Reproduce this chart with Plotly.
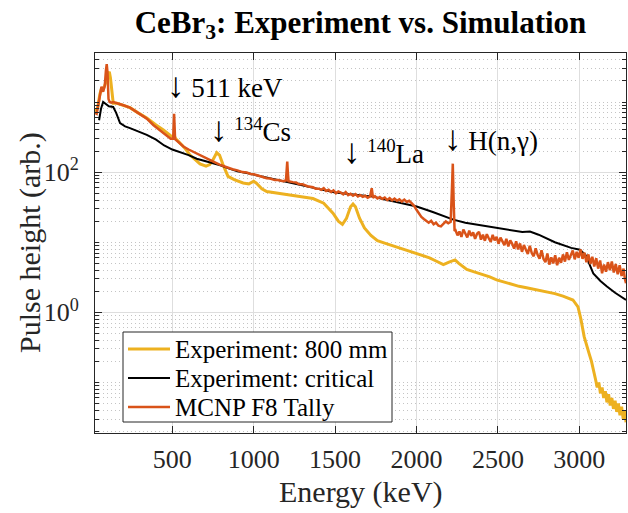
import plotly.graph_objects as go

# ---------------- data ----------------
energy_exp800 = [25, 40, 55, 66, 75, 85, 95, 105, 113, 120, 128, 137, 160, 190, 240, 290, 343,
                 400, 445, 490, 505, 512, 520, 547, 580, 609, 640, 670, 707, 730, 750, 773, 790,
                 810, 842, 880, 935, 970, 1000, 1015, 1050, 1080, 1150, 1250, 1364, 1430, 1487,
                 1520, 1545, 1570, 1595, 1610, 1625, 1650, 1680, 1720, 1760, 1800, 1836, 1870,
                 1900, 1950, 2001, 2040, 2080, 2120, 2165, 2200, 2237, 2260, 2309, 2350, 2400,
                 2450, 2492, 2540, 2580, 2630, 2676, 2740, 2800, 2850, 2900, 2961, 2992, 3010,
                 3030, 3045, 3060, 3075, 3090, 3100, 3110, 3120, 3130, 3140, 3150, 3160, 3170,
                 3180, 3190, 3200, 3210, 3220, 3230, 3240, 3250, 3260, 3270, 3280, 3287]
pulse_exp800 = [730, 800, 1300, 1600, 1500, 1700, 2000, 2500, 2700, 2200, 1400, 960, 960, 900,
                830, 700, 590, 470, 400, 330, 315, 330, 300, 260, 215, 175, 150, 131, 122, 128,
                150, 190, 175, 130, 87, 78, 70, 68, 74, 70, 58, 53, 50, 46, 42, 36, 26, 20, 18,
                22, 32, 35, 32, 22, 16, 12.5, 10.5, 9.8, 9.2, 8.8, 8.2, 7.6, 7.0, 6.5, 6.0, 5.4,
                4.8, 5.2, 5.6, 5.0, 4.1, 3.8, 3.5, 3.2, 2.9, 2.7, 2.5, 2.35, 2.24, 2.1, 1.95,
                1.85, 1.7, 1.5, 1.2, 0.8, 0.45, 0.33, 0.26, 0.2, 0.13, 0.11, 0.085, 0.1, 0.07,
                0.085, 0.06, 0.075, 0.052, 0.068, 0.047, 0.06, 0.042, 0.055, 0.038, 0.05, 0.034,
                0.045, 0.03, 0.04, 0.027, 0.034, 0.024]

energy_critical = [50, 62, 75, 90, 110, 137, 155, 179, 210, 240, 290, 343, 400, 450, 500, 547,
                   600, 650, 700, 751, 800, 850, 900, 957, 1000, 1100, 1200, 1300, 1364, 1450,
                   1500, 1571, 1650, 1735, 1800, 1900, 2001, 2100, 2226, 2300, 2400, 2492, 2600,
                   2650, 2697, 2750, 2850, 2950, 3004, 3040, 3086, 3130, 3168, 3220, 3287]
pulse_critical = [550, 800, 1000, 950, 870, 850, 700, 500, 450, 425, 380, 340, 290, 240, 210,
                  195, 175, 155, 143, 135, 124, 112, 103, 97, 92, 82, 72, 64, 59, 54, 51, 49,
                  46.5, 44.7, 41, 36.5, 32.4, 27, 21, 19, 17.5, 16.2, 14.5, 14.0, 14.2, 12.8,
                  10, 8.3, 7.8, 6.5, 3.6, 2.8, 2.35, 1.9, 1.5]

energy_mcnp = [25, 35, 45, 55, 65, 75, 85, 92, 97, 102, 108, 115, 125, 137, 160, 180, 200, 240,
               290, 343, 383, 420, 460, 490, 505, 511, 517, 530, 568, 600, 640, 680, 720, 752,
               790, 830, 870, 900, 930, 957, 980, 1000, 1030, 1050, 1080, 1100, 1130, 1150, 1180,
               1198, 1203, 1206, 1209, 1214, 1240, 1260, 1280, 1300, 1330, 1364, 1380,
               1400, 1415, 1430, 1445, 1460, 1475, 1490, 1505, 1520, 1535, 1550, 1565, 1580,
               1595, 1610, 1625, 1640, 1655, 1670, 1685, 1700, 1715, 1725, 1733, 1745, 1760,
               1775, 1790, 1805, 1820, 1835, 1850, 1865, 1880, 1895, 1910, 1925, 1940, 1955,
               1970, 1985, 2000, 2015, 2030, 2045, 2060, 2075, 2090, 2105, 2120, 2135, 2150,
               2165, 2180, 2195, 2210, 2218, 2223, 2228, 2234,
               2240, 2252, 2264, 2276, 2288, 2300, 2312, 2324, 2336, 2348, 2360, 2372, 2384,
               2396, 2408, 2420, 2432, 2444, 2456, 2468, 2480, 2492, 2504, 2516, 2528, 2540,
               2552, 2564, 2576, 2588, 2600, 2612, 2624, 2636, 2648, 2660, 2672, 2684, 2696,
               2708, 2720, 2732, 2744, 2756, 2768, 2780, 2792, 2804, 2816, 2828, 2840, 2852,
               2864, 2876, 2888, 2900, 2912, 2924, 2936, 2948, 2960, 2972, 2984, 2996, 3008,
               3020, 3032, 3044, 3056, 3068, 3080, 3092, 3104, 3116, 3128, 3140, 3152, 3164,
               3176, 3188, 3200, 3212, 3224, 3236, 3248, 3260, 3272, 3280, 3287]
pulse_mcnp = [700, 680, 900, 1300, 1650, 1400, 1700, 2800, 3470, 2600, 1100, 1000, 980, 1000,
              970, 930, 900, 830, 700, 580, 470, 400, 340, 300, 300, 680, 295, 275, 232, 210,
              188, 168, 153, 141, 128, 118, 110, 106, 100, 99, 94, 93, 88, 87, 82, 81, 77, 77,
              74, 76, 110, 141, 105, 74, 72, 71, 67, 67, 63, 61, 58,
              58, 56, 59, 54, 56, 52, 55, 50, 53, 51, 48, 52, 47,
              49, 46, 48.5, 45, 47, 44.5, 46, 43, 45, 59, 43, 45.5, 42,
              44, 41.5, 43.5, 40, 42.5, 39.5, 42, 39, 41, 38, 40.5, 37.5, 39,
              36, 33, 29, 25.5, 23, 21.5, 20, 19, 20.2, 18, 19, 17.2, 16.8,
              18.2, 19.8, 18.6, 19.6, 60, 132, 40, 14.5,
              14.8, 12.5, 14.2, 11.9, 15.2, 13.0, 11.7, 14.6, 12.3, 13.8, 11.2, 13.2, 14.1,
              10.9, 12.8, 10.5, 13.0, 11.4, 10.1, 12.7, 10.6, 11.9, 9.5, 11.6, 10.3, 9.1,
              11.2, 8.7, 10.6, 9.5, 8.1, 10.3, 7.9, 9.6, 7.3, 9.1, 7.8, 6.8, 8.9,
              7.0, 6.3, 8.2, 6.6, 5.8, 7.7, 5.8, 5.2, 6.9, 4.8, 6.1, 5.0, 6.5,
              4.7, 6.0, 5.1, 6.7, 5.3, 7.2, 5.6, 6.5, 7.6, 5.7, 7.3, 6.0, 7.9,
              5.8, 7.1, 5.2, 6.7, 4.9, 6.2, 4.5, 5.9, 4.2, 5.5, 3.6, 4.8, 3.8,
              5.2, 4.0, 5.3, 3.7, 4.9, 3.5, 4.7, 3.3, 4.2, 3.0, 2.6]

series_names = ["Experiment: 800 mm", "Experiment: critical", "MCNP F8 Tally"]
series_colors = ["#EDB120", "#000000", "#D95319"]
series_widths = [3, 2, 2.5]

x_ticks = [500, 1000, 1500, 2000, 2500, 3000]
y_ticks = [1, 100]
y_tick_text = ["10<sup>0</sup>", "10<sup>2</sup>"]

# ---------------- figure ----------------
FONT = "Liberation Serif"
AX = "#262626"

fig = go.Figure()
for xs, ys, nm, col, w in zip([energy_exp800, energy_critical, energy_mcnp],
                              [pulse_exp800, pulse_critical, pulse_mcnp],
                              series_names, series_colors, series_widths):
    fig.add_trace(go.Scatter(x=xs, y=ys, mode="lines", name=nm,
                             line=dict(color=col, width=w), showlegend=False))

minor_vals = [m * 10.0 ** k for k in range(-2, 4) for m in range(1, 10)
              if not (m == 1 and k in (0, 2))]

fig.update_layout(
    width=628, height=513,
    margin=dict(l=95, r=2, t=53, b=80),
    paper_bgcolor="white", plot_bgcolor="white",
    font=dict(family=FONT, color=AX, size=26),
    title=dict(text="<b>CeBr<sub>3</sub>: Experiment vs. Simulation</b>",
               x=0.5, xref="paper", xanchor="center",
               y=0.957, yref="container", yanchor="middle",
               font=dict(family=FONT, size=31, color="#000000")),
    showlegend=False,
    xaxis=dict(range=[25, 3287], tickmode="array", tickvals=x_ticks,
               ticks="inside", ticklen=7, tickcolor=AX, showline=True, linecolor=AX,
               linewidth=1, mirror="ticks", showgrid=True, gridcolor="#dedede",
               gridwidth=1, zeroline=False, tickfont=dict(family=FONT, size=26),
               ticklabelstandoff=3),
    yaxis=dict(type="log", range=[-1.7212, 3.699], tickmode="array", tickvals=y_ticks,
               ticktext=y_tick_text, ticks="inside", ticklen=7, tickcolor=AX,
               showline=True, linecolor=AX, linewidth=1, mirror="ticks",
               showgrid=True, gridcolor="#dedede", gridwidth=1, zeroline=False,
               tickfont=dict(family=FONT, size=26), ticklabelstandoff=10,
               minor=dict(tickmode="array", tickvals=minor_vals, ticks="inside",
                          ticklen=4, tickcolor=AX, showgrid=True,
                          gridcolor="#c4c4c4", griddash="1px,3px", gridwidth=1)),
)

# ----- legend drawn as a boxed key (MATLAB style) -----
px_x = lambda px: (px - 95) / 531.0
px_y = lambda py: (433.0 - py) / 380.0
fig.add_shape(type="rect", xref="paper", yref="paper",
              x0=px_x(123), x1=px_x(392), y0=px_y(422), y1=px_y(332),
              line=dict(color=AX, width=1), fillcolor="white", layer="above")
row_y = [349, 378, 407]
for nm, col, w, ry in zip(series_names, series_colors, series_widths, row_y):
    fig.add_shape(type="line", xref="paper", yref="paper",
                  x0=px_x(128), x1=px_x(170), y0=px_y(ry), y1=px_y(ry),
                  line=dict(color=col, width=w), layer="above")
    fig.add_annotation(x=px_x(173), y=px_y(ry), xref="paper", yref="paper",
                       text=nm, showarrow=False, xanchor="left", yanchor="middle",
                       font=dict(family=FONT, size=25, color="#000000"))

# ----- peak labels -----
ann_font = dict(family=FONT, size=27, color="#000000")
arrow = '<span style="font-size:35px">↓</span>'
fig.add_annotation(x=452, y=3.23, xref="x", yref="y", text=arrow + " 511 keV",
                   showarrow=False, xanchor="left", yanchor="middle", font=ann_font)
fig.add_annotation(x=720, y=2.61, xref="x", yref="y", text=arrow + " <sup>134</sup>Cs",
                   showarrow=False, xanchor="left", yanchor="middle", font=ann_font)
fig.add_annotation(x=1538, y=2.29, xref="x", yref="y", text=arrow + " <sup>140</sup>La",
                   showarrow=False, xanchor="left", yanchor="middle", font=ann_font)
fig.add_annotation(x=2155, y=2.48, xref="x", yref="y", text=arrow + " H(n,γ)",
                   showarrow=False, xanchor="left", yanchor="middle", font=ann_font)

# ----- axis titles -----
fig.add_annotation(x=-0.1224, y=0.5, xref="paper", yref="paper",
                   text="Pulse height (arb.)", textangle=-90, showarrow=False,
                   xanchor="center", yanchor="middle",
                   font=dict(family=FONT, size=30, color=AX))
fig.add_annotation(x=0.5, y=-0.1545, xref="paper", yref="paper",
                   text="Energy (keV)", showarrow=False,
                   xanchor="center", yanchor="middle",
                   font=dict(family=FONT, size=30, color=AX))

fig.write_html("out.html")
